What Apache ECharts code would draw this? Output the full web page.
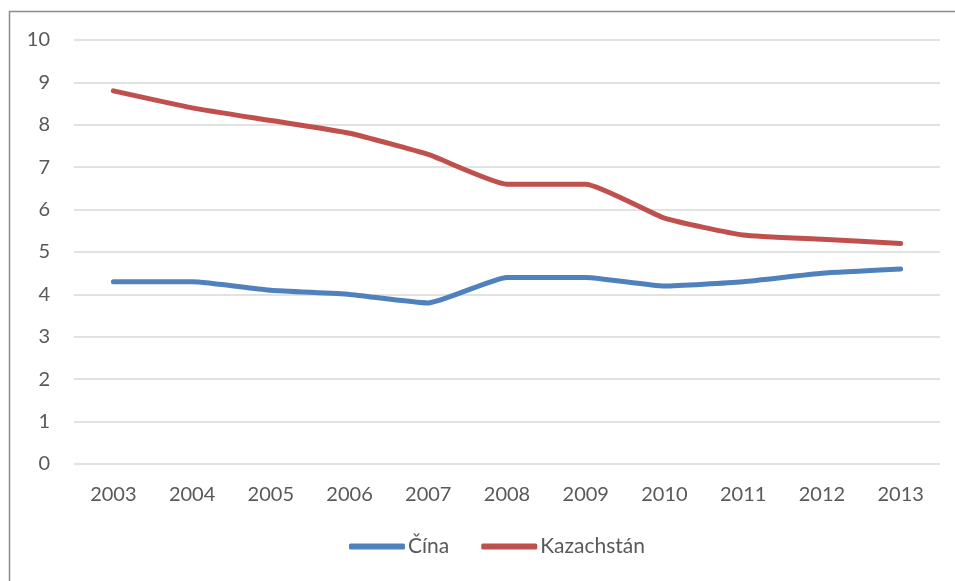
<!DOCTYPE html>
<html>
<head>
<meta charset="utf-8">
<script src="https://cdn.jsdelivr.net/npm/echarts@6/dist/echarts.min.js"></script>
<style>
  html, body { margin: 0; padding: 0; background: #fff; }
  #main { width: 955px; height: 581px; }
</style>
</head>
<body>
<div id="main"></div>
<script>
// data
const years = ['2003', '2004', '2005', '2006', '2007', '2008', '2009', '2010', '2011', '2012', '2013'];
const cina = [4.3, 4.3, 4.1, 4.0, 3.8, 4.4, 4.4, 4.2, 4.3, 4.5, 4.6];
const kazachstan = [8.8, 8.4, 8.1, 7.8, 7.3, 6.6, 6.6, 5.8, 5.4, 5.3, 5.2];

const chart = echarts.init(document.getElementById('main'));
const font = 'Lato, "Open Sans", sans-serif';

const option = {
    animation: false,
    textStyle: { fontFamily: font },
    graphic: [{
        type: 'rect',
        shape: { x: 9.5, y: 11.5, width: 1000, height: 700 },
        style: { fill: null, stroke: '#8c8c8c', lineWidth: 1.5 },
        silent: true
    }],
    grid: { left: 74, right: 15, top: 40, bottom: 117 },
    legend: {
        bottom: 19,
        left: 344,
        itemWidth: 56,
        itemHeight: 6,
        itemGap: 32,
        icon: 'roundRect',
        textStyle: { color: '#595959', fontSize: 21, fontFamily: font, padding: [0, 0, 0, -2] },
        data: ['Čína', 'Kazachstán']
    },
    xAxis: {
        type: 'category',
        data: years,
        boundaryGap: true,
        axisLine: { show: false },
        axisTick: { show: false },
        axisLabel: { color: '#595959', fontSize: 20, margin: 21, fontFamily: font }
    },
    yAxis: {
        type: 'value',
        min: 0,
        max: 10,
        interval: 1,
        axisLine: { show: false },
        axisTick: { show: false },
        axisLabel: { color: '#595959', fontSize: 20, margin: 24, fontFamily: font },
        splitLine: { lineStyle: { color: '#d9d9d9', width: 1.5 } }
    },
    series: [
        {
            name: 'Čína',
            type: 'line',
            data: cina,
            smooth: 0.15,
            symbol: 'none',
            lineStyle: { color: '#4f81bd', width: 5, cap: 'round' },
            itemStyle: { color: '#4f81bd' }
        },
        {
            name: 'Kazachstán',
            type: 'line',
            data: kazachstan,
            smooth: 0.15,
            symbol: 'none',
            lineStyle: { color: '#c0504d', width: 5, cap: 'round' },
            itemStyle: { color: '#c0504d' }
        }
    ]
};

chart.setOption(option);
</script>
</body>
</html>
